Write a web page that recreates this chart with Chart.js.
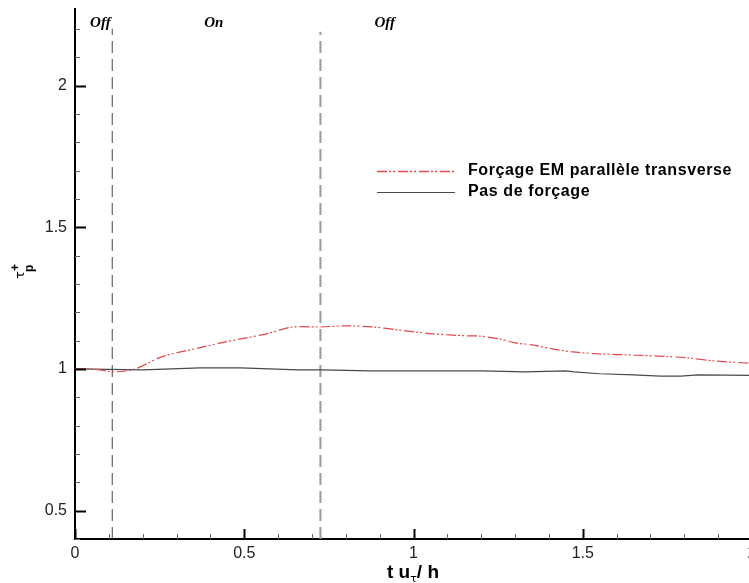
<!DOCTYPE html>
<html>
<head>
<meta charset="utf-8">
<script src="https://cdn.jsdelivr.net/npm/chart.js@4.4.0/dist/chart.umd.min.js"></script>
<style>
  html, body { margin: 0; padding: 0; background: #fff; overflow: hidden; }
  #wrap { width: 760px; height: 583px; }
</style>
</head>
<body>
<div id="wrap"><canvas id="tauChart" width="760" height="583"></canvas></div>
<script>
// forcing EM parallele transverse
var forcageX = [0, 0.05, 0.118, 0.177, 0.25, 0.30, 0.37, 0.43, 0.49, 0.566, 0.643, 0.723, 0.80, 0.88, 0.96, 1.056, 1.156, 1.195, 1.254, 1.30, 1.35, 1.41, 1.47, 1.55, 1.65, 1.746, 1.81, 1.89, 2.0];
var forcageY = [1.0, 1.0, 0.99, 1.0, 1.04, 1.057, 1.075, 1.092, 1.106, 1.124, 1.148, 1.148, 1.152, 1.148, 1.137, 1.124, 1.117, 1.116, 1.106, 1.092, 1.085, 1.071, 1.06, 1.053, 1.049, 1.044, 1.039, 1.028, 1.02];
// pas de forcage
var sansX = [0, 0.2, 0.37, 0.49, 0.575, 0.66, 0.73, 0.87, 1.2, 1.33, 1.45, 1.475, 1.55, 1.65, 1.73, 1.79, 1.84, 2.0];
var sansY = [1.0, 0.997, 1.004, 1.004, 1.0, 0.997, 0.997, 0.993, 0.993, 0.99, 0.993, 0.99, 0.983, 0.979, 0.975, 0.975, 0.979, 0.977];
// on/off switch times
var switchX = [0.11, 0.725];
var phaseLabels = ['Off', 'On', 'Off'];
var phaseX = [0.075, 0.41, 0.915];
var xTicks = [0, 0.5, 1, 1.5, 2];
var yTicks = [0.5, 1, 1.5, 2];
var legendNames = ['Forçage EM parallèle transverse', 'Pas de forçage'];

var redCol = '#e44848';
var blackCol = '#4a4a4a';
var redDash = [10, 2, 2, 2, 2, 3];

function pts(xs, ys) {
  return xs.map(function (x, i) { return { x: x, y: ys[i] }; });
}

var datasets = [
  { label: legendNames[0], data: pts(forcageX, forcageY), borderColor: redCol, borderWidth: 1.2, borderDash: redDash, pointRadius: 0, tension: 0.3, fill: false },
  { label: legendNames[1], data: pts(sansX, sansY), borderColor: blackCol, borderWidth: 1.2, pointRadius: 0, tension: 0, fill: false },
  { label: 'switch1', data: [{ x: switchX[0], y: 0.4 }, { x: switchX[0], y: 2.2 }], borderColor: '#444', borderWidth: 1, borderDash: [12, 6], pointRadius: 0 },
  { label: 'switch2', data: [{ x: switchX[1], y: 0.4 }, { x: switchX[1], y: 2.19 }], borderColor: '#9a9a9a', borderWidth: 2, borderDash: [12, 6], pointRadius: 0 }
];

var decor = {
  id: 'decor',
  afterDraw: function (chart) {
    var ctx = chart.ctx, xs = chart.scales.x, ys = chart.scales.y;
    var area = chart.chartArea;
    ctx.save();
    ctx.setLineDash([]);
    ctx.strokeStyle = '#000';
    // inward ticks
    for (var i = 0; i <= 20; i++) {
      var v = i / 10, major = (i % 5 === 0);
      var px = Math.round(xs.getPixelForValue(v)) + 0.5;
      ctx.lineWidth = major ? 2 : 1;
      ctx.strokeStyle = major ? '#000' : '#666';
      ctx.beginPath(); ctx.moveTo(px, area.bottom); ctx.lineTo(px, area.bottom - (major ? 10 : 5)); ctx.stroke();
    }
    for (var j = 4; j <= 22; j++) {
      var w = j / 10, maj = (j % 5 === 0);
      var py = Math.round(ys.getPixelForValue(w)) + 0.5;
      ctx.lineWidth = maj ? 2 : 1;
      ctx.strokeStyle = maj ? '#000' : '#666';
      ctx.beginPath(); ctx.moveTo(area.left, py); ctx.lineTo(area.left + (maj ? 11 : 5), py); ctx.stroke();
    }
    // phase labels
    ctx.fillStyle = '#000';
    ctx.font = 'italic bold 15px "Liberation Serif", "Times New Roman", serif';
    ctx.textAlign = 'center';
    ctx.textBaseline = 'middle';
    phaseLabels.forEach(function (t, k) {
      ctx.fillText(t, xs.getPixelForValue(phaseX[k]), 23);
    });
    // legend
    var lx0 = 377, lx1 = 455, rows = [171, 192];
    ctx.lineWidth = 1.5;
    ctx.strokeStyle = redCol; ctx.setLineDash(redDash);
    ctx.beginPath(); ctx.moveTo(lx0, rows[0] + 0.5); ctx.lineTo(lx1, rows[0] + 0.5); ctx.stroke();
    ctx.lineWidth = 1.2;
    ctx.strokeStyle = blackCol; ctx.setLineDash([]);
    ctx.beginPath(); ctx.moveTo(lx0, rows[1] + 0.5); ctx.lineTo(lx1, rows[1] + 0.5); ctx.stroke();
    ctx.font = 'bold 16px "Liberation Sans", Arial, sans-serif';
    ctx.letterSpacing = '0.6px';
    ctx.textAlign = 'left';
    ctx.fillText(legendNames[0], 468, rows[0]);
    ctx.fillText(legendNames[1], 468, rows[1]);
    ctx.letterSpacing = '0px';
    // x title: t u_tau / h
    ctx.textBaseline = 'alphabetic';
    var bx = 387, by = 578;
    ctx.font = 'bold 19px "Liberation Sans", Arial, sans-serif';
    ctx.fillText('t u', bx, by);
    bx += ctx.measureText('t u').width;
    ctx.font = '11px "DejaVu Sans", sans-serif';
    ctx.fillText('τ', bx, by + 4);
    bx += ctx.measureText('τ').width;
    ctx.font = 'bold 19px "Liberation Sans", Arial, sans-serif';
    ctx.fillText('/ h', bx, by);
    // y title: tau_p^+
    ctx.translate(24, 279);
    ctx.rotate(-Math.PI / 2);
    ctx.font = '13px "DejaVu Sans", sans-serif';
    ctx.fillText('τ', 0, 0);
    ctx.font = 'bold 12px "Liberation Sans", Arial, sans-serif';
    ctx.fillText('p', 7, 9);
    ctx.fillText('+', 8, -5);
    ctx.restore();
  }
};

var tickFont = { family: '"Liberation Sans", Arial, sans-serif', size: 16 };

var ctxTau = document.getElementById('tauChart').getContext('2d');
var chartTau = new Chart(ctxTau, {
  type: 'line',
  data: { datasets: datasets },
  options: {
    responsive: false,
    animation: false,
    layout: { padding: { top: 9, right: 8, left: 0, bottom: 0 } },
    plugins: { legend: { display: false }, tooltip: { enabled: false } },
    scales: {
      x: {
        type: 'linear', min: 0, max: 2,
        grid: { display: false, drawTicks: false },
        border: { display: true, color: '#000', width: 2 },
        ticks: { font: tickFont, color: '#222', padding: 5, maxRotation: 0, autoSkip: false, callback: function (v) { return String(v); } },
        afterBuildTicks: function (s) { s.ticks = xTicks.map(function (v) { return { value: v }; }); },
        afterFit: function (s) { s.height = 44; s.paddingLeft = 0; s.paddingRight = 0; }
      },
      y: {
        type: 'linear', min: 0.4, max: 2.27,
        grid: { display: false, drawTicks: false },
        border: { display: true, color: '#000', width: 2 },
        ticks: { font: tickFont, color: '#222', padding: 8, autoSkip: false, callback: function (v) { return String(v); } },
        afterBuildTicks: function (s) { s.ticks = yTicks.map(function (v) { return { value: v }; }); },
        afterFit: function (s) { s.width = 75; s.paddingTop = 0; s.paddingBottom = 0; }
      }
    }
  },
  plugins: [decor]
});
</script>
</body>
</html>
